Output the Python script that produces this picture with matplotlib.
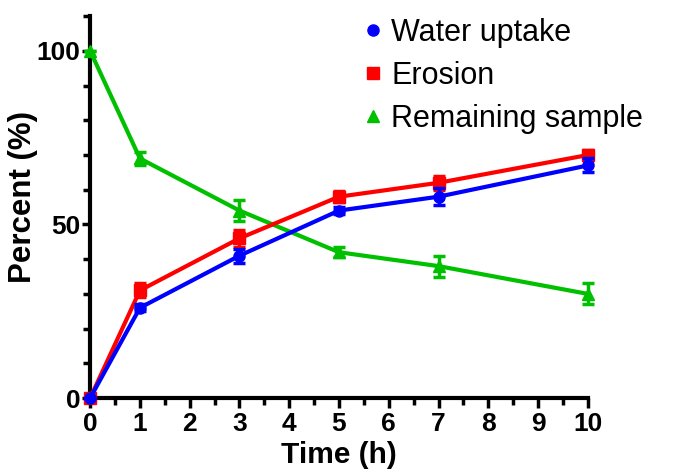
import matplotlib.pyplot as plt
from matplotlib.lines import Line2D
import numpy as np

plt.rcParams['font.family'] = ['Liberation Sans', 'DejaVu Sans']

time = [0, 1, 3, 5, 7, 10]

water = [0, 26, 41, 54, 58, 67]
water_err = [0, 1, 2, 1, 2.5, 2]

erosion = [0, 31, 46, 58, 62, 70]
erosion_err = [0, 2, 2.5, 1.5, 2, 1.5]

remaining = [100, 69, 54, 42, 38, 30]
remaining_err = [0, 2, 3, 1.5, 3, 3]

labels = ['Water uptake', 'Erosion', 'Remaining sample']
colors = ['#0000ff', '#ff0000', '#00c000']
markers = ['o', 's', '^']

fig = plt.figure(figsize=(6.78, 4.75), dpi=100)
ax = fig.add_axes([0.133, 0.162, 0.734, 0.804])

series = [(water, water_err), (erosion, erosion_err), (remaining, remaining_err)]
for i, (vals, errs) in enumerate(series):
    ax.errorbar(time, vals, yerr=errs, color=colors[i], marker=markers[i], markersize=8,
                linewidth=3, capsize=4, capthick=2.5, elinewidth=2.5,
                clip_on=False, zorder=5 - i)

ax.set_xlim(0, 10)
ax.set_ylim(0, 110)
ax.set_xticks(range(0, 11))
ax.set_xticks(np.arange(0.5, 10, 1), minor=True)
ax.set_yticks([0, 50, 100])
ax.set_yticks([10, 20, 30, 40, 60, 70, 80, 90, 110], minor=True)

for side in ['top', 'right']:
    ax.spines[side].set_visible(False)
for side in ['left', 'bottom']:
    ax.spines[side].set_linewidth(3)

ax.tick_params(which='major', length=7, width=2.5, labelsize=19, pad=3)
ax.tick_params(axis='y', which='major', length=6, pad=1)
ax.tick_params(which='minor', length=5, width=2.5)
for lab in ax.get_xticklabels() + ax.get_yticklabels():
    lab.set_fontweight('bold')

ax.set_xlabel('Time (h)', fontsize=21.5, fontweight='bold', labelpad=4)
ax.set_ylabel('Percent (%)', fontsize=22.5, fontweight='bold')
ax.yaxis.set_label_coords(-0.104, 0.526)

handles = [Line2D([], [], color=colors[i], marker=markers[i], markersize=8, linestyle='none')
           for i in range(3)]
ax.legend(handles, labels, loc='upper left', bbox_to_anchor=(0.544, 0.995), fontsize=22,
          frameon=False, borderpad=0, borderaxespad=0, handlelength=0.8,
          handletextpad=0.2, labelspacing=0.42)

fig.savefig('out.png', dpi=100)
